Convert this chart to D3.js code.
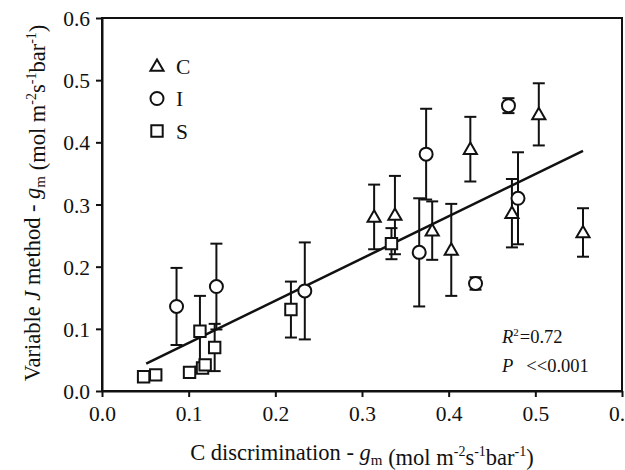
<!doctype html>
<html>
<head>
<meta charset="UTF-8">
<title>gm comparison</title>
<script src="https://d3js.org/d3.v7.min.js"></script>
<style>
  body { margin: 0; background: #fff; }
  text { font-family: "Liberation Serif", "Times New Roman", serif; fill: #111; }
</style>
</head>
<body>
<svg id="chart" width="625" height="470"></svg>
<script>
// series C (triangles)
var cX = [0.314, 0.338, 0.381, 0.403, 0.425, 0.473, 0.504, 0.555];
var cY = [0.280, 0.283, 0.258, 0.227, 0.389, 0.286, 0.445, 0.255];
var cErr = [0.052, 0.063, 0.047, 0.074, 0.052, 0.055, 0.050, 0.039];
// series I (circles)
var iX = [0.086, 0.132, 0.234, 0.366, 0.374, 0.431, 0.469, 0.480];
var iY = [0.136, 0.168, 0.161, 0.223, 0.381, 0.173, 0.459, 0.310];
var iErr = [0.062, 0.069, 0.078, 0.087, 0.073, 0.010, 0.012, 0.074];
// series S (squares)
var sX = [0.048, 0.062, 0.101, 0.116, 0.119, 0.113, 0.130, 0.218, 0.334];
var sY = [0.023, 0.026, 0.030, 0.037, 0.042, 0.096, 0.070, 0.131, 0.237];
var sErr = [0.004, 0.004, 0.004, 0.004, 0.004, 0.057, 0.038, 0.045, 0.025];
// regression
var fitSlope = 0.679, fitIntercept = 0.0095, fitRange = [0.051, 0.555];
var xTicks = [0.0, 0.1, 0.2, 0.3, 0.4, 0.5, 0.6];
var yTicks = [0.0, 0.1, 0.2, 0.3, 0.4, 0.5, 0.6];
var legendNames = ["C", "I", "S"];

var svg = d3.select("#chart");
var padL = 102, padR = 622, padT = 18, padB = 391;
var x = d3.scaleLinear().domain([0, 0.6]).range([padL, padR]);
var y = d3.scaleLinear().domain([0, 0.6]).range([padB, padT]);

// frame
svg.append("rect").attr("x", padL).attr("y", padT)
  .attr("width", padR - padL).attr("height", padB - padT)
  .attr("fill", "none").attr("stroke", "#111").attr("stroke-width", 2);

var xAxis = svg.append("g").attr("transform", "translate(0," + padB + ")")
  .call(d3.axisBottom(x).tickValues(xTicks).tickFormat(d3.format(".1f")).tickSize(6).tickSizeOuter(0));
var yAxis = svg.append("g").attr("transform", "translate(" + padL + ",0)")
  .call(d3.axisLeft(y).tickValues(yTicks).tickFormat(d3.format(".1f")).tickSize(6).tickSizeOuter(0));
[xAxis, yAxis].forEach(function(a){
  a.select(".domain").attr("stroke", "#111").attr("stroke-width", 2);
  a.selectAll(".tick line").attr("stroke", "#111").attr("stroke-width", 2);
  a.selectAll(".tick text").attr("font-family", "Liberation Serif").attr("font-size", 21.5).attr("fill", "#111");
});
xAxis.selectAll(".tick text").attr("dy", "0").attr("y", 30);
yAxis.selectAll(".tick text").attr("x", -12).attr("dy", "0.35em");

// error bars
function errorBars(xs, ys, es) {
  var g = svg.append("g").attr("stroke", "#111").attr("stroke-width", 2);
  xs.forEach(function(d, i){
    var px = x(d), y0 = y(ys[i] - es[i]), y1 = y(ys[i] + es[i]);
    g.append("line").attr("x1", px).attr("x2", px).attr("y1", y0).attr("y2", y1);
    g.append("line").attr("x1", px - 6).attr("x2", px + 6).attr("y1", y0).attr("y2", y0);
    g.append("line").attr("x1", px - 6).attr("x2", px + 6).attr("y1", y1).attr("y2", y1);
  });
}
errorBars(cX, cY, cErr);
errorBars(iX, iY, iErr);
errorBars(sX, sY, sErr);

// regression line
svg.append("line")
  .attr("x1", x(fitRange[0])).attr("y1", y(fitIntercept + fitSlope * fitRange[0]))
  .attr("x2", x(fitRange[1])).attr("y2", y(fitIntercept + fitSlope * fitRange[1]))
  .attr("stroke", "#111").attr("stroke-width", 2.5);

var tri = d3.symbol().type(d3.symbolTriangle).size(75);
var sq = d3.symbol().type(d3.symbolSquare).size(130);

function markers(xs, ys, kind) {
  var g = svg.append("g");
  xs.forEach(function(d, i){
    var px = x(d), py = y(ys[i]);
    if (kind === "C") {
      g.append("path").attr("d", tri()).attr("transform", "translate(" + px + "," + (py + 1) + ")");
    } else if (kind === "I") {
      g.append("circle").attr("cx", px).attr("cy", py).attr("r", 6.5);
    } else {
      g.append("path").attr("d", sq()).attr("transform", "translate(" + px + "," + py + ")");
    }
  });
  g.selectAll("*").attr("fill", "#fff").attr("stroke", "#111").attr("stroke-width", 2);
}
markers(cX, cY, "C");
markers(iX, iY, "I");
markers(sX, sY, "S");

// legend
var lg = svg.append("g");
legendNames.forEach(function(n, i){
  var ly = 66 + i * 32.5;
  if (i === 0) lg.append("path").attr("d", tri()).attr("transform", "translate(157," + (ly + 1) + ")");
  if (i === 1) lg.append("circle").attr("cx", 157).attr("cy", ly).attr("r", 6.5);
  if (i === 2) lg.append("path").attr("d", sq()).attr("transform", "translate(157," + ly + ")");
  svg.append("text").attr("x", 176).attr("y", ly + 7.5).attr("font-size", 21.5).text(n);
});
lg.selectAll("path, circle").attr("fill", "#fff").attr("stroke", "#111").attr("stroke-width", 2);

// stats text
var r2 = svg.append("text").attr("x", 502).attr("y", 343).attr("font-size", 18.5);
r2.append("tspan").attr("font-style", "italic").text("R");
r2.append("tspan").attr("font-size", 11).attr("dy", -7).text("2");
r2.append("tspan").attr("dy", 7).attr("dx", 1).text("=0.72");
var pt = svg.append("text").attr("x", 502).attr("y", 372).attr("font-size", 18.5);
pt.append("tspan").attr("font-style", "italic").text("P");
pt.append("tspan").attr("dx", 13).text("<<0.001");

// axis titles
function unitParts(t) {
  t.append("tspan").text(" (mol m");
  t.append("tspan").attr("font-size", 14).attr("dy", -9).text("-2");
  t.append("tspan").attr("dy", 9).text("s");
  t.append("tspan").attr("font-size", 14).attr("dy", -9).text("-1");
  t.append("tspan").attr("dy", 9).text("bar");
  t.append("tspan").attr("font-size", 14).attr("dy", -9).text("-1");
  t.append("tspan").attr("dy", 9).text(")");
}
var xt = svg.append("text").attr("x", 362).attr("y", 460).attr("text-anchor", "middle").attr("font-size", 22.5);
xt.append("tspan").text("C discrimination - ");
xt.append("tspan").attr("font-style", "italic").text("g");
xt.append("tspan").attr("font-size", 15).attr("dy", 5).text("m");
xt.append("tspan").attr("dy", -5).text("");
unitParts(xt);

var yt = svg.append("text").attr("transform", "translate(40,203) rotate(-90)")
  .attr("text-anchor", "middle").attr("font-size", 22.5);
yt.append("tspan").text("Variable ");
yt.append("tspan").attr("font-style", "italic").text("J");
yt.append("tspan").text(" method - ");
yt.append("tspan").attr("font-style", "italic").text("g");
yt.append("tspan").attr("font-size", 15).attr("dy", 5).text("m");
yt.append("tspan").attr("dy", -5).text("");
unitParts(yt);
</script>
</body>
</html>
